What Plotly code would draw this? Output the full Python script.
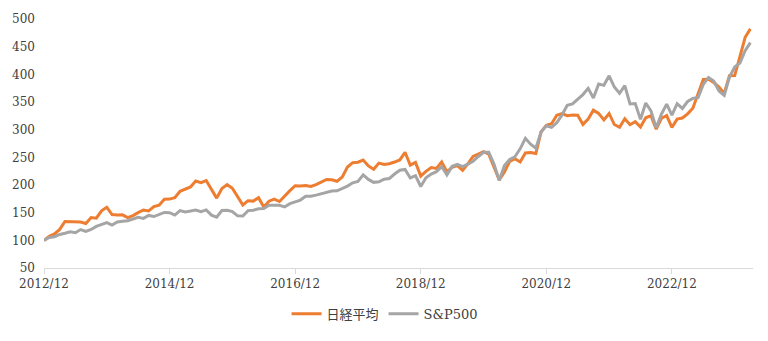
import plotly.graph_objects as go
import pandas as pd

# Monthly index values (2012/12 = 100), 2012/12 .. 2024/03
months = [p.strftime("%Y/%m") for p in pd.period_range("2012-12", "2024-03", freq="M")]

nikkei = [
    100.0, 107.3, 111.6, 119.8, 134.2, 133.6, 132.8, 133.0, 130.5, 141.1, 140.0, 153.4,
    159.8, 146.5, 146.0, 146.1, 141.2, 144.6, 150.1, 154.9, 153.2, 160.9, 163.6, 174.3,
    174.5, 177.0, 188.5, 192.9, 196.4, 207.2, 204.2, 208.1, 191.3, 176.3, 193.8, 200.9,
    194.0, 178.8, 163.8, 171.6, 170.9, 177.0, 160.3, 170.7, 174.3, 170.1, 180.4, 189.9,
    198.6, 198.1, 199.2, 197.4, 200.7, 205.8, 210.1, 209.3, 206.7, 214.5, 232.4, 240.3,
    241.1, 245.0, 234.4, 228.3, 239.5, 237.0, 238.5, 241.5, 245.3, 259.1, 235.9, 240.9,
    216.1, 224.6, 231.6, 230.0, 241.8, 224.2, 231.9, 234.9, 226.4, 238.3, 251.5, 255.9,
    260.4, 255.8, 233.4, 209.2, 223.7, 242.7, 247.6, 241.6, 257.9, 258.9, 256.9, 296.1,
    307.9, 310.8, 326.0, 328.9, 325.3, 326.4, 326.1, 309.5, 319.2, 335.2, 329.4, 317.7,
    329.3, 309.3, 304.3, 319.7, 309.0, 314.5, 304.7, 321.5, 325.4, 300.9, 320.6, 325.5,
    304.2, 319.1, 321.0, 328.5, 338.6, 363.0, 390.7, 391.1, 385.2, 376.8, 365.6, 397.4,
    397.7, 432.0, 467.0, 482.1,
]

sp500 = [
    100.0, 105.2, 106.5, 110.6, 112.7, 115.3, 113.7, 119.5, 116.0, 119.6, 125.1, 128.9,
    132.1, 127.6, 133.3, 134.5, 135.5, 138.6, 141.5, 139.6, 145.0, 143.0, 146.6, 150.4,
    150.0, 145.6, 153.8, 151.4, 152.9, 154.8, 151.8, 155.0, 145.5, 141.9, 153.9, 154.3,
    151.8, 144.3, 144.0, 153.7, 154.4, 157.0, 157.4, 163.3, 163.3, 163.4, 160.5, 166.2,
    169.5, 172.8, 179.5, 179.8, 181.7, 184.1, 185.3, 189.1, 189.6, 193.5, 198.1, 204.0,
    206.4, 218.3, 210.1, 204.8, 205.7, 210.5, 211.8, 219.8, 226.8, 228.2, 212.7, 216.8,
    197.3, 213.1, 219.8, 224.1, 233.3, 218.3, 233.7, 237.1, 233.2, 237.6, 242.9, 251.5,
    259.2, 259.1, 237.7, 208.3, 235.1, 246.2, 251.1, 265.3, 284.4, 273.7, 266.5, 295.7,
    307.1, 304.2, 312.6, 326.4, 344.1, 346.5, 354.8, 363.4, 374.6, 357.3, 382.6, 380.1,
    397.3, 377.0, 365.8, 379.4, 346.6, 347.2, 318.6, 348.2, 333.9, 303.2, 328.0, 346.1,
    326.3, 346.9, 338.4, 350.9, 356.6, 358.0, 381.8, 394.4, 388.0, 369.7, 362.1, 395.1,
    413.2, 420.4, 442.9, 457.4,
]

tick_labels = ["2012/12", "2014/12", "2016/12", "2018/12", "2020/12", "2022/12"]
tick_pos = [months.index(t) for t in tick_labels]
y_ticks = [50, 100, 150, 200, 250, 300, 350, 400, 450, 500]

x = list(range(len(months)))
serif = "DejaVu Serif, Noto Sans CJK JP, serif"

fig = go.Figure()
fig.add_trace(go.Scatter(x=x, y=nikkei, mode="lines", name="日経平均",
                         line=dict(color="#ED7D31", width=3), customdata=months,
                         hovertemplate="%{customdata}: %{y}<extra>日経平均</extra>"))
fig.add_trace(go.Scatter(x=x, y=sp500, mode="lines", name="S&P500",
                         line=dict(color="#A5A5A5", width=3), customdata=months,
                         hovertemplate="%{customdata}: %{y}<extra>S&P500</extra>"))

fig.update_layout(
    width=768, height=341,
    margin=dict(l=44, r=15, t=15, b=68),
    paper_bgcolor="white", plot_bgcolor="white",
    font=dict(family=serif, size=12, color="#404040"),
    showlegend=True,
    legend=dict(orientation="h", x=0.481, xanchor="center", y=-0.1835, yanchor="middle",
                font=dict(family=serif, size=13, color="#404040"),
                itemwidth=30, tracegroupgap=0),
    xaxis=dict(range=[0, 135.5], tickmode="array", tickvals=tick_pos, ticktext=tick_labels,
               showgrid=False, zeroline=False, showline=True, linecolor="#D9D9D9", linewidth=1,
               ticks="outside", ticklen=5, tickcolor="#D9D9D9",
               tickfont=dict(family=serif, size=12, color="#404040")),
    yaxis=dict(range=[50, 500], tickmode="array", tickvals=y_ticks,
               showgrid=False, zeroline=False, showline=False, ticks="",
               ticklabelstandoff=8,
               tickfont=dict(family=serif, size=12, color="#404040")),
)

fig.write_html("out.html")
